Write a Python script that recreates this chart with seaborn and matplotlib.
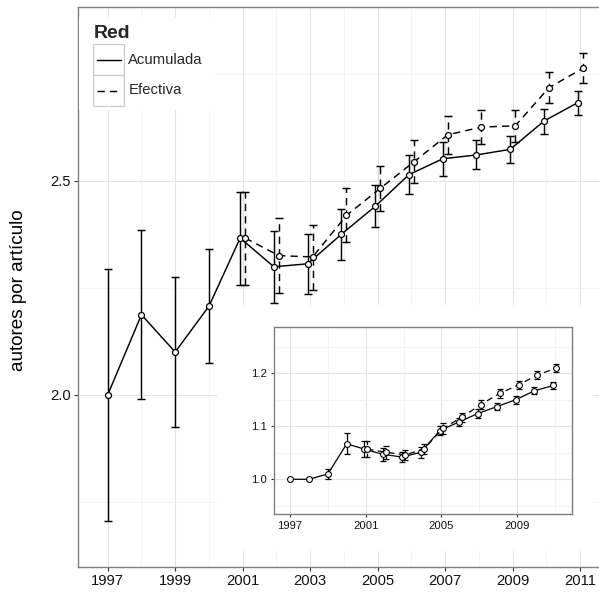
import numpy as np
import pandas as pd
import matplotlib
matplotlib.use("Agg")
import matplotlib.pyplot as plt
import seaborn as sns
from matplotlib.patches import Rectangle
from matplotlib.lines import Line2D
from matplotlib.ticker import FixedLocator

# ---------------- data ----------------
anios = list(range(1997, 2012))
acum_media = [2.000, 2.187, 2.100, 2.207, 2.366, 2.299, 2.306, 2.375, 2.440, 2.514, 2.551, 2.560, 2.573, 2.639, 2.682]
acum_inf = [1.705, 1.990, 1.926, 2.074, 2.257, 2.215, 2.235, 2.315, 2.391, 2.469, 2.512, 2.527, 2.541, 2.610, 2.654]
acum_sup = [2.294, 2.385, 2.275, 2.340, 2.473, 2.383, 2.376, 2.435, 2.490, 2.560, 2.591, 2.594, 2.604, 2.667, 2.709]

anios_ef = list(range(2001, 2012))
efec_media = [2.366, 2.325, 2.322, 2.419, 2.482, 2.544, 2.607, 2.625, 2.628, 2.717, 2.762]
efec_inf = [2.257, 2.237, 2.245, 2.356, 2.429, 2.495, 2.562, 2.586, 2.590, 2.682, 2.727]
efec_sup = [2.473, 2.414, 2.397, 2.482, 2.535, 2.595, 2.651, 2.664, 2.664, 2.754, 2.797]

# inset (relative values)
ins_acum = [1.000, 1.000, 1.010, 1.067, 1.057, 1.047, 1.042, 1.051, 1.092, 1.108, 1.124, 1.137, 1.150, 1.167, 1.177]
ins_acum_err = [0.0, 0.0, 0.009, 0.020, 0.015, 0.012, 0.009, 0.010, 0.009, 0.008, 0.008, 0.007, 0.007, 0.007, 0.006]
ins_efec = [1.057, 1.051, 1.046, 1.057, 1.096, 1.117, 1.141, 1.162, 1.178, 1.197, 1.210]
ins_efec_err = [0.015, 0.012, 0.010, 0.010, 0.010, 0.009, 0.009, 0.008, 0.008, 0.008, 0.008]

series_names = ["Acumulada", "Efectiva"]
legend_title = "Red"
ylabel = "autores por artículo"
main_xticks = [1997, 1999, 2001, 2003, 2005, 2007, 2009, 2011]
main_yticks = [2.0, 2.5]
inset_xticks = [1997, 2001, 2005, 2009]
inset_yticks = [1.0, 1.1, 1.2]

# ---------------- style ----------------
sns.set_theme(style="white")
plt.rcParams["font.family"] = ["Liberation Sans", "DejaVu Sans"]

W, H = 599, 592
fig = plt.figure(figsize=(W / 100, H / 100), dpi=100)
fig.patch.set_facecolor("white")


def fbox(x0, y0, x1, y1):
    """pixel box (top-left origin) -> figure fraction rect"""
    return [x0 / W, 1 - y1 / H, (x1 - x0) / W, (y1 - y0) / H]


BORDER = "#7f7f7f"
GRID_MAJ = "#e3e3e3"
GRID_MIN = "#f3f3f3"
DASH = (0, (5, 3.5))


def style_axes(ax, lab_size, tick_len):
    for s in ax.spines.values():
        s.set_color(BORDER)
        s.set_linewidth(1.0)
    ax.tick_params(which="major", length=tick_len, width=0.8, color="#333333",
                   labelsize=lab_size, labelcolor="#111111", pad=2.5,
                   left=True, bottom=True)
    ax.tick_params(which="minor", length=0, left=False, bottom=False)
    ax.grid(True, which="major", color=GRID_MAJ, lw=0.8, zorder=0)
    ax.grid(True, which="minor", color=GRID_MIN, lw=0.6, zorder=0)
    ax.set_axisbelow(True)
    ax.set_xlabel("")
    ax.set_ylabel("")


def dodged(years, other, d):
    return [y - d if y in other else y for y in years]


# ---------------- main axes ----------------
ax = fig.add_axes(fbox(78.3, 6.7, 599, 566.7))
ax.set_facecolor("white")

d_main = 0.075
x_ac = dodged(anios, anios_ef, d_main)
x_ef = [y + d_main for y in anios_ef]

df = pd.DataFrame({
    "x": x_ac + x_ef,
    "valor": acum_media + efec_media,
    "Red": [series_names[0]] * len(anios) + [series_names[1]] * len(anios_ef),
})

ax.errorbar(x_ac, acum_media,
            yerr=[np.array(acum_media) - np.array(acum_inf), np.array(acum_sup) - np.array(acum_media)],
            fmt="none", ecolor="black", elinewidth=1.05, capsize=3.1, capthick=1.05, zorder=2)
e2 = ax.errorbar(x_ef, efec_media,
                 yerr=[np.array(efec_media) - np.array(efec_inf), np.array(efec_sup) - np.array(efec_media)],
                 fmt="none", ecolor="black", elinewidth=1.05, capsize=3.1, capthick=1.05, zorder=2)
e2.lines[2][0].set_linestyle(DASH)

sns.lineplot(data=df, x="x", y="valor", style="Red",
             dashes={series_names[0]: "", series_names[1]: (5, 3.5)},
             markers={series_names[0]: "o", series_names[1]: "o"},
             color="black", lw=1.05, markersize=4.3, markerfacecolor="white",
             markeredgecolor="black", markeredgewidth=0.9,
             estimator=None, sort=False, legend=False, ax=ax, zorder=3)

ax.set_xlim(1996.129, 2011.557)
ax.set_ylim(1.599, 2.906)
ax.xaxis.set_major_locator(FixedLocator(main_xticks))
ax.xaxis.set_minor_locator(FixedLocator([1998, 2000, 2002, 2004, 2006, 2008, 2010]))
ax.yaxis.set_major_locator(FixedLocator(main_yticks))
ax.yaxis.set_minor_locator(FixedLocator([1.75, 2.25, 2.75]))
style_axes(ax, 10.6, 2.9)
ax.set_xticklabels([str(t) for t in main_xticks])
ax.set_yticklabels(["%.1f" % t for t in main_yticks])
ax.spines["right"].set_visible(False)

fig.text(19 / W, 1 - 289.7 / H, ylabel, rotation=90, ha="center", va="center",
         fontsize=13.6, color="black")

# ---------------- legend (drawn manually, ggplot-like) ----------------
T = fig.transFigure
fig.patches.append(Rectangle((79 / W, 1 - 110 / H), (211 - 79) / W, (110 - 17) / H,
                             transform=T, facecolor="white", edgecolor="none", zorder=1.5))
fig.text(94.0 / W, 1 - 38.3 / H, legend_title, fontsize=14.0, fontweight="bold",
         ha="left", va="baseline", zorder=2)
key_rows = [(44.3, 75.0), (75.0, 106.0)]
for (y0, y1), name, ls in zip(key_rows, series_names, ["-", DASH]):
    fig.patches.append(Rectangle((93.3 / W, 1 - y1 / H), (124.3 - 93.3) / W, (y1 - y0) / H,
                                 transform=T, facecolor="white", edgecolor="#cccccc",
                                 lw=0.9, zorder=1.6))
    yc = 1 - (y0 + y1) / 2 / H
    fig.lines.append(Line2D([96.7 / W, 121.3 / W], [yc, yc], transform=T, color="black",
                            lw=1.05, linestyle=ls, zorder=1.7))
    fig.text(128.3 / W, yc, name, fontsize=10.7, ha="left", va="center", zorder=2)

# ---------------- inset ----------------
fig.patches.append(Rectangle((216.7 / W, 1 - 551 / H), (593 - 216.7) / W, (551 - 305) / H,
                             transform=T, facecolor="white", edgecolor="none", zorder=1.5))

axi = fig.add_axes(fbox(274, 327.3, 571.7, 514))
axi.set_zorder(2)
axi.set_facecolor("white")

d_ins = 0.08
xi_ac = dodged(anios, anios_ef, d_ins)
xi_ef = [y + d_ins for y in anios_ef]

dfi = pd.DataFrame({
    "x": xi_ac + xi_ef,
    "valor": ins_acum + ins_efec,
    "Red": [series_names[0]] * len(anios) + [series_names[1]] * len(anios_ef),
})

mask = [e > 0 for e in ins_acum_err]
axi.errorbar([x for x, m in zip(xi_ac, mask) if m], [v for v, m in zip(ins_acum, mask) if m],
             yerr=[e for e, m in zip(ins_acum_err, mask) if m],
             fmt="none", ecolor="black", elinewidth=0.9, capsize=2.2, capthick=0.9, zorder=2)
ei = axi.errorbar(xi_ef, ins_efec, yerr=ins_efec_err,
                  fmt="none", ecolor="black", elinewidth=0.9, capsize=2.2, capthick=0.9, zorder=2)
ei.lines[2][0].set_linestyle((0, (3, 2)))

sns.lineplot(data=dfi, x="x", y="valor", style="Red",
             dashes={series_names[0]: "", series_names[1]: (5, 3.5)},
             markers={series_names[0]: "o", series_names[1]: "o"},
             color="black", lw=0.9, markersize=4.2, markerfacecolor="white",
             markeredgecolor="black", markeredgewidth=0.8,
             estimator=None, sort=False, legend=False, ax=axi, zorder=3)

axi.set_xlim(1996.154, 2011.89)
axi.set_ylim(0.9345, 1.2868)
axi.xaxis.set_major_locator(FixedLocator(inset_xticks))
axi.xaxis.set_minor_locator(FixedLocator([1999, 2003, 2007, 2011]))
axi.yaxis.set_major_locator(FixedLocator(inset_yticks))
axi.yaxis.set_minor_locator(FixedLocator([0.95, 1.05, 1.15, 1.25]))
style_axes(axi, 8.1, 2.5)
axi.set_xticklabels([str(t) for t in inset_xticks])
axi.set_yticklabels(["%.1f" % t for t in inset_yticks])

fig.savefig("out.png", dpi=100, facecolor="white")
